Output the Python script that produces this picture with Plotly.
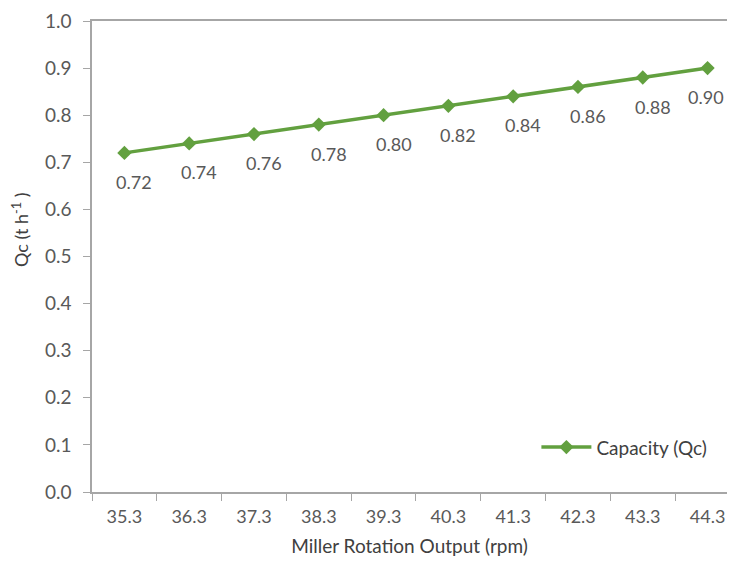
import plotly.graph_objects as go

rpm = ["35.3", "36.3", "37.3", "38.3", "39.3", "40.3", "41.3", "42.3", "43.3", "44.3"]
capacity = [0.72, 0.74, 0.76, 0.78, 0.80, 0.82, 0.84, 0.86, 0.88, 0.90]
y_ticks = [0.0, 0.1, 0.2, 0.3, 0.4, 0.5, 0.6, 0.7, 0.8, 0.9, 1.0]
series_name = "Capacity (Qc)"
y_title = "Qc (t h<sup>-1</sup> )"
x_title = "Miller Rotation Output (rpm)"

GREEN = "#62a03f"
GREY_TXT = "#595959"
AXIS = "#a6a6a6"
FONT = "Lato"

fig = go.Figure()
fig.add_trace(go.Scatter(
    x=rpm, y=capacity, mode="lines+markers", name=series_name,
    line=dict(color=GREEN, width=3.5),
    marker=dict(symbol="diamond", size=11, color=GREEN),
    cliponaxis=False,
))

# data labels (category index positions taken from the data order)
n = len(capacity)
for i, yv in enumerate(capacity):
    fig.add_annotation(
        x=i, y=yv, xref="x", yref="y", text=f"{yv:.2f}", showarrow=False,
        xshift=10 if i < n - 1 else -2, yshift=-29,
        font=dict(family=FONT, size=18, color=GREY_TXT),
    )

fig.add_annotation(
    x=-0.112, y=0.556, xref="paper", yref="paper", text=y_title,
    textangle=-90, showarrow=False, xanchor="center", yanchor="middle",
    borderpad=0,
    font=dict(family=FONT, size=18, color="#404040"),
)

fig.update_layout(
    width=719, height=549,
    margin=dict(l=84, r=0, t=13, b=65, autoexpand=False),
    paper_bgcolor="white", plot_bgcolor="white",
    font=dict(family=FONT, size=18, color=GREY_TXT),
    showlegend=True,
    legend=dict(
        x=0.977, y=0.095, xanchor="right", yanchor="middle",
        bgcolor="rgba(0,0,0,0)", itemwidth=50,
        font=dict(family=FONT, size=19, color="#404040"),
    ),
)

fig.update_xaxes(
    type="category", range=[-0.5, 9.30], automargin=False,
    showgrid=False, zeroline=False,
    showline=True, linecolor=AXIS, linewidth=1.5, mirror=True,
    ticks="outside", tickson="boundaries", ticklen=7, tickcolor=AXIS,
    ticklabelstandoff=8,
    tickfont=dict(family=FONT, size=18, color=GREY_TXT),
    title=dict(text=x_title, standoff=18,
               font=dict(family=FONT, size=19, color="#404040")),
)

fig.update_yaxes(
    range=[0, 1.0], tickvals=y_ticks, ticktext=[f"{v:.1f}" for v in y_ticks],
    automargin=False,
    showgrid=False, zeroline=False,
    showline=True, linecolor=AXIS, linewidth=1.5,
    ticks="outside", ticklen=7, tickcolor=AXIS,
    ticklabelstandoff=8,
    tickfont=dict(family=FONT, size=19, color=GREY_TXT),
)

fig.write_html("out.html")
